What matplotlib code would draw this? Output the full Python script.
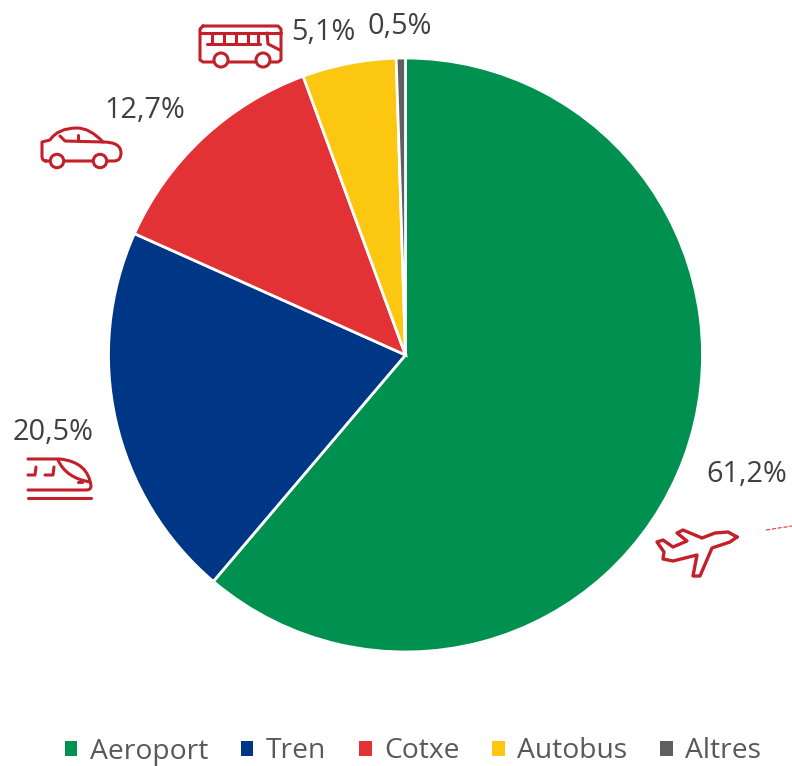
import matplotlib
matplotlib.use("Agg")
import matplotlib.pyplot as plt
from matplotlib.patches import Circle, PathPatch
from matplotlib.path import Path

plt.rcParams['font.family'] = ['Open Sans', 'DejaVu Sans']

categories = ["Aeroport", "Tren", "Cotxe", "Autobus", "Altres"]
values = [61.2, 20.5, 12.7, 5.1, 0.5]
colors = ["#00904F", "#003686", "#E33236", "#FCC711", "#5F5F5F"]
# where each percent label sits, in pixels of the picture
label_pos = [(747, 475), (53, 433), (145, 110), (323, 32), (400, 26)]

W, H = 792, 766
ICON = "#C4202A"
LW = 2.2

fig = plt.figure(figsize=(W / 100, H / 100), dpi=100)
R = 297
cx, cy = 405.5, 355
ax = fig.add_axes([(cx - R) / W, 1 - (cy + R) / H, 2 * R / W, 2 * R / H])
wedges, _ = ax.pie(values, colors=colors, startangle=90, counterclock=False,
                   radius=1, wedgeprops={"edgecolor": "white", "linewidth": 2.0})
ax.set_xlim(-1, 1)
ax.set_ylim(-1, 1)

# overlay in picture pixels for the labels and the little icons
ov = fig.add_axes([0, 0, 1, 1], zorder=5)
ov.set_xlim(0, W)
ov.set_ylim(H, 0)
ov.axis("off")

for v, (x, y) in zip(values, label_pos):
    txt = f"{v:.1f}%".replace(".", ",")
    ov.text(x, y, txt, ha="center", va="center", fontsize=20.8, color="#404040")


def stroke(pts, lw=LW):
    xs = [p[0] for p in pts]
    ys = [p[1] for p in pts]
    ov.plot(xs, ys, color=ICON, lw=lw, solid_capstyle="round", solid_joinstyle="round")


def curve(start, *quads):
    # quads are (control, end) pairs, control None means straight line
    verts = [start]
    codes = [Path.MOVETO]
    for c, e in quads:
        if c is None:
            verts.append(e)
            codes.append(Path.LINETO)
        else:
            verts += [c, e]
            codes += [Path.CURVE3, Path.CURVE3]
    ov.add_patch(PathPatch(Path(verts, codes), fc="none", ec=ICON, lw=LW, capstyle="round", joinstyle="round"))


def wheel(x, y, r):
    ov.add_patch(Circle((x, y), r, fc="white", ec=ICON, lw=LW, zorder=4))


# bus
stroke([(203, 26), (278, 26), (281, 29), (281, 60), (278, 62), (203, 62), (200, 60), (200, 29), (203, 26)])
stroke([(201, 33), (281, 33)])
stroke([(207, 44), (260, 44)])
for x in [212, 224, 236, 248, 258]:
    stroke([(x, 33), (x, 44)])
stroke([(267, 33), (268, 44), (280, 50)])
wheel(221, 60, 7)
wheel(263, 60, 7)

# car
curve((46, 161), ((42, 161), (42, 156)), (None, (42, 142)), (None, (50, 140)),
      ((58, 128), (77, 128)), ((90, 128), (103, 142)), ((121, 142), (121, 153)),
      ((121, 161), (114, 161)), (None, (46, 161)))
stroke([(60, 136), (65, 141), (103, 142)])
stroke([(78, 135), (78, 141)])
wheel(57, 161, 6.7)
wheel(100, 161, 6.7)

# train
curve((28, 459), (None, (60, 459)), ((88, 462), (91, 486)), ((91, 490), (86, 490)), (None, (28, 490)))
stroke([(28, 498), (91, 498)])
curve((58, 460), ((66, 478), (90, 482)))
stroke([(28, 475), (35, 475), (36, 467)])
stroke([(45, 475), (53, 475), (54, 467)])
stroke([(78, 482), (82, 482)])

# plane
stroke([(737, 537), (728, 532), (715, 533), (702, 538), (683, 530), (677, 533), (687, 541),
        (673, 547), (663, 540), (657, 542), (664, 552), (663, 559), (673, 561), (697, 555),
        (693, 576), (700, 576), (712, 548), (730, 542), (737, 537)], lw=2.4)
ov.plot([766, 792], [530, 526], color="#E33236", lw=0.8, ls="--")

fig.legend(wedges, categories, loc="center", bbox_to_anchor=(413 / W, 1 - 751.5 / H), ncols=5,
           frameon=False, fontsize=20.3, labelcolor="#595959", handlelength=0.45, handleheight=0.45,
           handletextpad=0.45, columnspacing=1.15, borderpad=0, borderaxespad=0)
for h in fig.legends[0].legend_handles:
    h.set_edgecolor("none")

fig.savefig("out.png", dpi=100)
